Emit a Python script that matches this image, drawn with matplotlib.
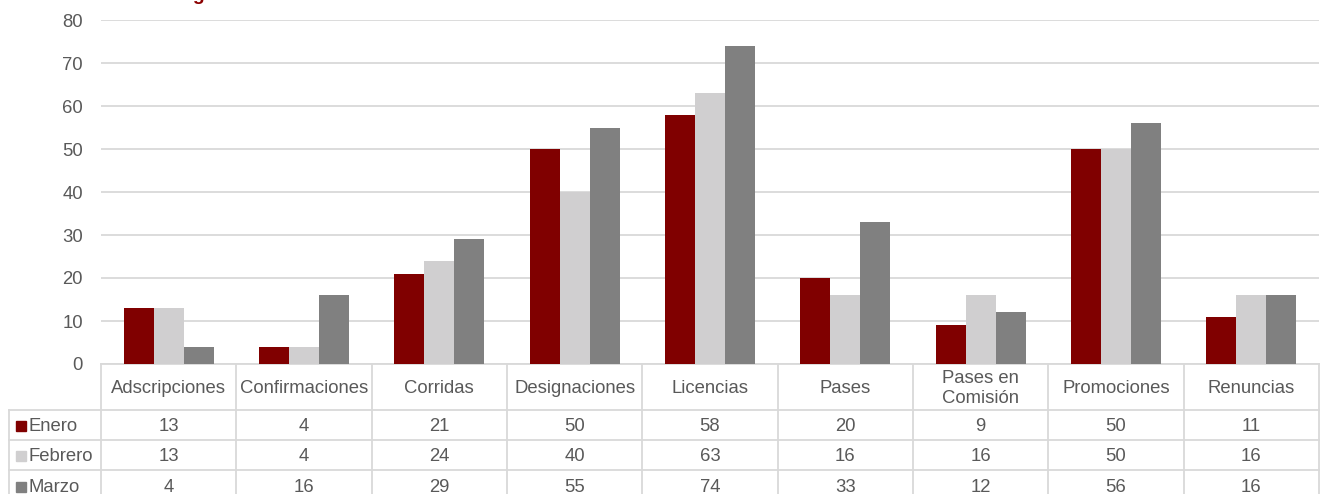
import matplotlib
matplotlib.use("Agg")
import matplotlib.pyplot as plt
from matplotlib.transforms import blended_transform_factory
from matplotlib.patches import Rectangle
from matplotlib.lines import Line2D

plt.rcParams['font.family'] = ['Liberation Sans', 'DejaVu Sans']

categories = ["Adscripciones", "Confirmaciones", "Corridas", "Designaciones",
              "Licencias", "Pases", "Pases en\nComisión", "Promociones", "Renuncias"]
series_names = ["Enero", "Febrero", "Marzo"]
enero = [13, 4, 21, 50, 58, 20, 9, 50, 11]
febrero = [13, 4, 24, 40, 63, 16, 16, 50, 16]
marzo = [4, 16, 29, 55, 74, 33, 12, 56, 16]
series_values = [enero, febrero, marzo]
colors = ["#800000", "#d0cfd0", "#808080"]
yticks = [0, 10, 20, 30, 40, 50, 60, 70, 80]
title = "Total Ingresos de Movimientos de Personal del Primer Trimestre 2019"

W, H = 1327, 494
fig = plt.figure(figsize=(W / 100, H / 100), dpi=100)

left_px, right_px, top_px, bottom_px = 101, 1319, 20, 364
ax = fig.add_axes([left_px / W, 1 - bottom_px / H, (right_px - left_px) / W, (bottom_px - top_px) / H])

FS = 13.3
TXT = "#595959"

n = len(categories)
x = list(range(n))
bw = 0.222
for i, (vals, col) in enumerate(zip(series_values, colors)):
    ax.bar([xi + (i - 1) * bw for xi in x], vals, width=bw, color=col, zorder=3)

ax.set_xlim(-0.5, n - 0.5)
ax.set_ylim(0, 80)
ax.set_yticks(yticks)
ax.yaxis.grid(True, color="#d9d9d9", linewidth=1.3, zorder=0)
ax.set_axisbelow(True)
for s in ["left", "right", "top"]:
    ax.spines[s].set_visible(False)
ax.spines["bottom"].set_color("#d9d9d9")
ax.spines["bottom"].set_linewidth(1.3)
ax.tick_params(axis="y", length=0, labelsize=FS, labelcolor=TXT, pad=13)
ax.set_xticks([])

# Table
line_col = "#d9d9d9"
tr = blended_transform_factory(ax.transData, fig.transFigure)
def fy(py):
    return 1 - py / H

row_tops = [364, 410, 440, 470, 500]
for b in [k - 0.5 for k in range(n + 1)]:
    fig.add_artist(Line2D([b, b], [fy(364), fy(494)], transform=tr, color=line_col, lw=1.3, clip_on=False))
xl = -0.5 - (left_px - 9) / ((right_px - left_px) / n)
for py in row_tops[1:4]:
    fig.add_artist(Line2D([xl, n - 0.5], [fy(py), fy(py)], transform=tr, color=line_col, lw=1.3, clip_on=False))
fig.add_artist(Line2D([xl, xl], [fy(410), fy(494)], transform=tr, color=line_col, lw=1.3, clip_on=False))

for xi, c in zip(x, categories):
    fig.text(xi, fy((364 + 410) / 2 + 1.5), c, transform=tr, ha="center", va="center",
             fontsize=FS, color=TXT, linespacing=1.2)

for r, (name, vals, col) in enumerate(zip(series_names, series_values, colors)):
    yc = fy((row_tops[r + 1] + row_tops[r + 2]) / 2 + 1) if r < 2 else fy(487)
    for xi, v in zip(x, vals):
        fig.text(xi, yc, str(v), transform=tr, ha="center", va="center", fontsize=FS, color=TXT)
    fig.add_artist(Rectangle((16 / W, yc - 5 / H), 10 / W, 10 / H, transform=fig.transFigure,
                             color=col, clip_on=False))
    fig.text(29 / W, yc, name, ha="left", va="center", fontsize=FS, color=TXT)

fig.text(125 / W, fy(-0.5), title, ha="left", va="baseline", fontsize=14,
         fontweight="bold", color="#8b0000")

fig.savefig("out.png", dpi=100)
